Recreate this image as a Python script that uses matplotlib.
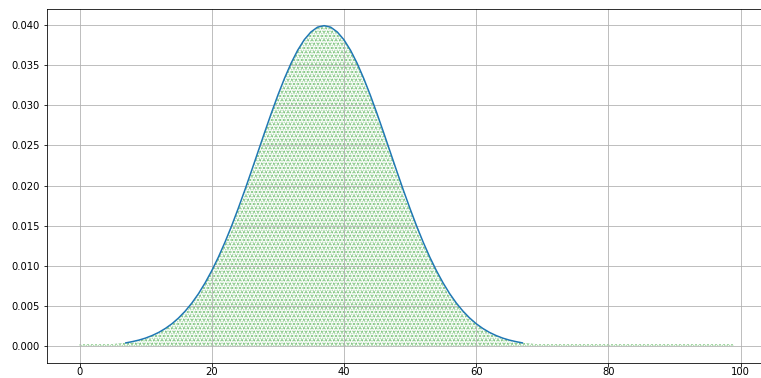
import matplotlib
matplotlib.use("Agg")
from matplotlib import pyplot as plt

# curve (peak ~0.0399 at x=37, ends at x=7 and x=67)
x_curve = list(range(7, 68))
y_curve = [0.00044, 0.00060, 0.00079, 0.00104, 0.00136, 0.00175, 0.00224, 0.00283,
           0.00355, 0.00440, 0.00540, 0.00656, 0.00790, 0.00941, 0.01109, 0.01295,
           0.01497, 0.01714, 0.01942, 0.02179, 0.02420, 0.02661, 0.02897, 0.03123,
           0.03332, 0.03521, 0.03683, 0.03814, 0.03910, 0.03970, 0.03989,
           0.03970, 0.03910, 0.03814, 0.03683, 0.03521, 0.03332, 0.03123, 0.02897,
           0.02661, 0.02420, 0.02179, 0.01942, 0.01714, 0.01497, 0.01295, 0.01109,
           0.00941, 0.00790, 0.00656, 0.00540, 0.00440, 0.00355, 0.00283, 0.00224,
           0.00175, 0.00136, 0.00104, 0.00079, 0.00060, 0.00044]

# extent of the green point cloud (thin tails along the bottom from 0 to 99)
x_tail_left = [0, 5]
y_tail_left = [0.0003, 0.0003]
x_tail_right = [69, 99]
y_tail_right = [0.0003, 0.0003]

x_cloud = x_tail_left + x_curve + x_tail_right
y_cloud = y_tail_left + y_curve + y_tail_right

plt.rcParams['hatch.linewidth'] = 1.1

fig = plt.figure(figsize=(761 / 72, 378 / 72), dpi=72)
ax = fig.add_axes([0.0615, 0.0410, 0.9459, 0.9339])

# overlaid dot textures stand in for the dense green point cloud
ax.fill_between(x_cloud, 0, y_cloud, facecolor='none', edgecolor='#2ca02c',
                hatch='...', linewidth=0, alpha=0.5)
ax.fill_between(x_cloud, 0, y_cloud, facecolor='none', edgecolor='#2ca02c',
                hatch='.....', linewidth=0, alpha=0.4)
ax.plot(x_curve, y_curve, color='#1f77b4', linewidth=1.5)

ax.set_xlim(-4.95, 103.95)
ax.set_ylim(-0.002, 0.0419)
ax.set_xticks([0, 20, 40, 60, 80, 100])
ax.set_yticks([0.000, 0.005, 0.010, 0.015, 0.020, 0.025, 0.030, 0.035, 0.040])
ax.set_yticklabels(["{:.3f}".format(v) for v in ax.get_yticks()])
ax.tick_params(axis='x', pad=1)
ax.grid(True)
ax.spines['right'].set_visible(False)

fig.savefig("out.png", dpi=72)
